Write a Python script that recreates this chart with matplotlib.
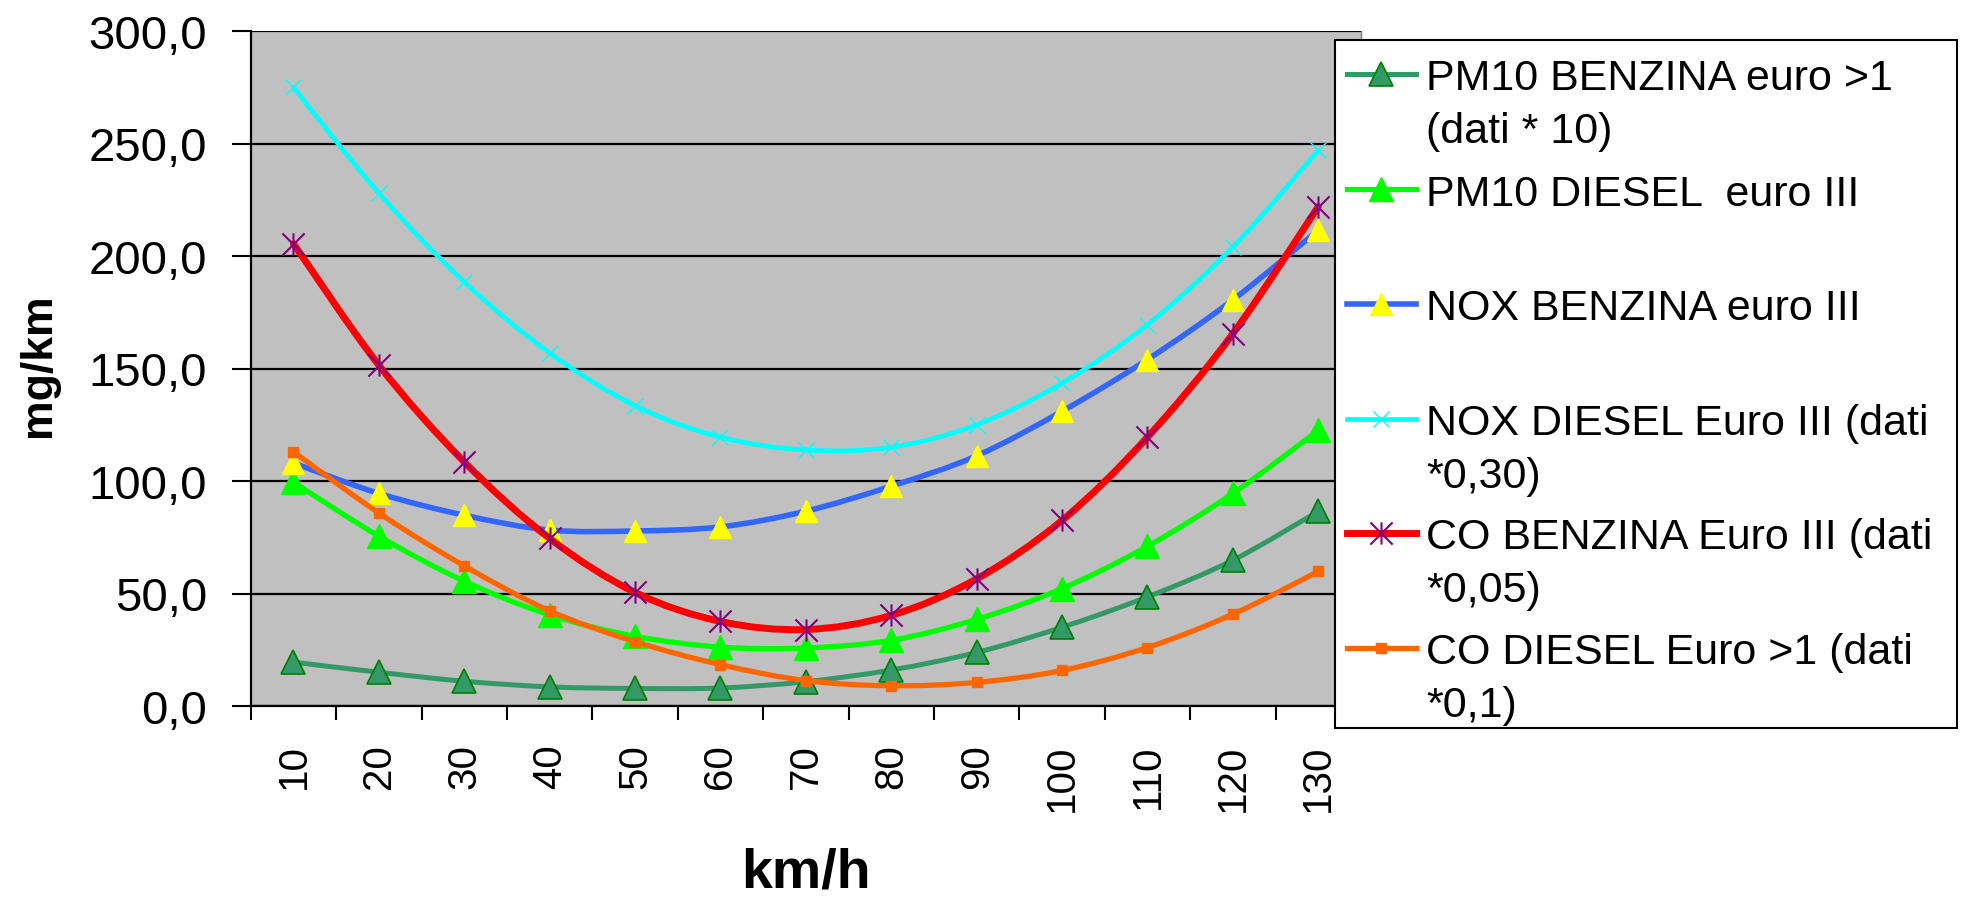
import numpy as np
import matplotlib
matplotlib.use("Agg")
import matplotlib.pyplot as plt
from matplotlib.path import Path
from matplotlib.patches import PathPatch, Rectangle
from matplotlib.lines import Line2D

plt.rcParams['font.family'] = ['Liberation Sans', 'DejaVu Sans']

# categorie (km/h) e serie (mg/km)
speeds = ['10', '20', '30', '40', '50', '60', '70', '80', '90', '100', '110', '120', '130']
pm10_benzina = [19.5, 15.0, 11.0, 8.5, 7.8, 8.0, 10.8, 16.0, 23.8, 35.0, 48.5, 64.8, 86.5]
pm10_diesel = [99.5, 75.5, 55.5, 40.5, 31.0, 26.2, 25.8, 29.2, 38.5, 52.2, 71.0, 94.5, 122.5]
nox_benzina = [108.0, 94.5, 84.8, 78.2, 77.8, 79.6, 86.6, 97.7, 111.2, 131.0, 154.0, 180.5, 211.5]
nox_diesel = [275.0, 228.0, 188.5, 157.0, 133.5, 119.5, 113.8, 115.0, 125.0, 143.5, 169.5, 204.0, 247.0]
co_benzina = [205.5, 151.5, 108.5, 74.5, 50.5, 37.6, 34.0, 40.3, 56.5, 82.5, 119.5, 165.5, 222.0]
co_diesel = [113.0, 85.8, 62.3, 42.3, 28.6, 18.4, 11.3, 9.0, 10.5, 15.8, 26.0, 40.8, 59.8]

labels = ['PM10 BENZINA euro >1\n(dati * 10)',
          'PM10 DIESEL  euro III',
          'NOX BENZINA euro III',
          'NOX DIESEL Euro III (dati\n*0,30)',
          'CO BENZINA Euro III (dati\n*0,05)',
          'CO DIESEL Euro >1 (dati\n*0,1)']

# asterisco stile Excel: X con linea verticale
star = Path([(0, -1), (0, 1), (-1, -1), (1, 1), (-1, 1), (1, -1)],
            [Path.MOVETO, Path.LINETO, Path.MOVETO, Path.LINETO, Path.MOVETO, Path.LINETO])

styles = [
    dict(color='#339966', lw=3.6, marker='^', ms=17, mfc='#339966', mec='#008000', mew=1.2),
    dict(color='#00FF00', lw=3.8, marker='^', ms=17, mfc='#00FF00', mec='#00FF00', mew=1.0),
    dict(color='#3366FF', lw=4.0, marker='^', ms=16, mfc='#FFFF00', mec='#FFFF00', mew=1.0),
    dict(color='#00FFFF', lw=3.4, marker='x', ms=12, mfc='#00FFFF', mec='#00FFFF', mew=1.0),
    dict(color='#FF0000', lw=5.0, marker=star, ms=16, mfc='none', mec='#800080', mew=1.5),
    dict(color='#FF6600', lw=3.8, marker='s', ms=6.5, mfc='#FF6600', mec='#FF6600', mew=1.0),
]
series = [pm10_benzina, pm10_diesel, nox_benzina, nox_diesel, co_benzina, co_diesel]


def smooth_path(xs, ys):
    # linea smussata tipo Excel (bezier cubiche)
    pts = np.column_stack([xs, ys]).astype(float)
    n = len(pts)
    verts = [pts[0]]
    codes = [Path.MOVETO]
    for i in range(n - 1):
        p0 = pts[i - 1] if i > 0 else pts[i]
        p1, p2 = pts[i], pts[i + 1]
        p3 = pts[i + 2] if i + 2 < n else pts[i + 1]
        verts += [p1 + (p2 - p0) / 6.0, p2 - (p3 - p1) / 6.0, p2]
        codes += [Path.CURVE4] * 3
    return Path(verts, codes)


W, H = 1966, 903
fig = plt.figure(figsize=(W / 100, H / 100), dpi=100)
ax = fig.add_axes([250.7 / W, 1 - 707 / H, (1361 - 250.7) / W, (707 - 32) / H])
ax.set_facecolor('#C0C0C0')

x = np.arange(len(speeds))
for k, (ys, st) in enumerate(zip(series, styles)):
    ax.add_patch(PathPatch(smooth_path(x, ys), fill=False, edgecolor=st['color'],
                           lw=st['lw'], zorder=3 + 2 * k, capstyle='round', joinstyle='round'))
    ax.plot(x, ys, ls='none', marker=st['marker'], ms=st['ms'], mfc=st['mfc'],
            mec=st['mec'], mew=st['mew'], zorder=4 + 2 * k, clip_on=False)

ax.set_xlim(-0.5, len(speeds) - 0.5)
ax.set_ylim(0, 300)
yt = np.arange(0, 301, 50)
ax.set_yticks(yt)
ax.set_yticklabels([('%.1f' % v).replace('.', ',') for v in yt], fontsize=34)
ax.yaxis.grid(True, color='black', lw=1.6)
ax.set_axisbelow(True)
ax.tick_params(axis='y', length=13.5, width=1.5, pad=18)

ax.set_xticks(x)
ax.set_xticklabels(speeds, rotation=90, fontsize=29)
ax.set_xticks(np.arange(-0.5, len(speeds)), minor=True)
ax.tick_params(axis='x', which='major', length=0, pad=27)
ax.tick_params(axis='x', which='minor', length=10, width=1.5)

for s in ['left', 'bottom']:
    ax.spines[s].set_linewidth(1.6)
    ax.spines[s].set_color('black')
ax.spines['top'].set_visible(False)
ax.spines['right'].set_color('#808080')
ax.spines['right'].set_linewidth(1.0)

fig.text(39 / W, 1 - 365 / H, 'mg/km', rotation=90, ha='center', va='center',
         fontsize=32, fontweight='bold')
fig.text(806 / W, 1 - 888 / H, 'km/h', ha='center', va='baseline',
         fontsize=40, fontweight='bold')

# legenda disegnata a mano (maniglia allineata alla prima riga)
fig.add_artist(Rectangle((1335 / W, 1 - 729 / H), (1957 - 1335) / W, (729 - 41) / H,
                         transform=fig.transFigure, facecolor='white',
                         edgecolor='black', lw=1.5, zorder=20))
centers = [75, 190, 305, 420, 534, 649]
for lab, st, cy in zip(labels, styles, centers):
    fy = 1 - cy / H
    fig.add_artist(Line2D([1347 / W, 1416 / W], [fy, fy], transform=fig.transFigure,
                          color=st['color'], lw=st['lw'], zorder=21))
    fig.add_artist(Line2D([1381 / W], [fy], transform=fig.transFigure, ls='none',
                          marker=st['marker'], ms=st['ms'], mfc=st['mfc'], mec=st['mec'],
                          mew=st['mew'], zorder=22))
    for j, line in enumerate(lab.split('\n')):
        fig.text(1426 / W, 1 - (cy + 15.5 + 53 * j) / H, line, ha='left', va='baseline',
                 fontsize=31, zorder=23)

fig.savefig('out.png', dpi=100)
